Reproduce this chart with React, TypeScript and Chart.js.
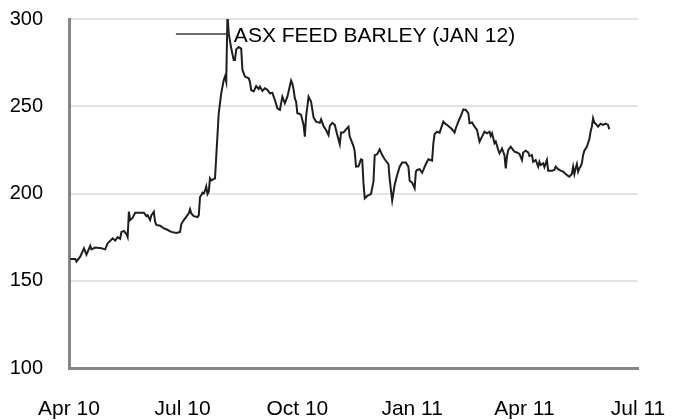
import React, { useEffect, useRef } from 'react';
import { Chart, registerables } from 'chart.js';

Chart.register(...registerables);

const seriesLabel = 'ASX FEED BARLEY (JAN 12)';

// x ticks: days since 1 Apr 2010
const tickDays = [0, 91, 183, 275, 365, 456];
const tickLabels = ['Apr 10', 'Jul 10', 'Oct 10', 'Jan 11', 'Apr 11', 'Jul 11'];
const yTicks = [100, 150, 200, 250, 300];

// days since 1 Apr 2010
const barleyDays = [
  1, 5, 6, 9, 12, 14, 17, 18, 21, 26,
  29, 31, 35, 37, 39, 41, 42, 44, 46, 47,
  48, 49, 51, 53, 60, 62, 63, 65, 66, 68,
  69, 70, 73, 76, 78, 82, 86, 89, 90, 92,
  96, 97, 98, 100, 103, 104, 105, 106, 107, 108,
  109, 110, 111, 112, 113, 114, 117, 120, 122, 124,
  125, 126, 127, 128, 130, 132, 133, 134, 136, 138,
  139, 141, 144, 145, 146, 148, 150, 152, 153, 155,
  157, 159, 161, 163, 165, 167, 169, 171, 173, 175,
  178, 179, 180, 181, 182, 183, 185, 186, 188, 189,
  190, 192, 194, 196, 198, 201, 202, 204, 206, 208,
  209, 211, 213, 215, 217, 218, 220, 222, 224, 225,
  228, 229, 230, 232, 234, 235, 236, 237, 239, 242,
  244, 245, 247, 249, 251, 253, 256, 257, 258, 259,
  261, 263, 265, 267, 270, 272, 273, 275, 277, 278,
  279, 281, 283, 284, 286, 288, 291, 292, 293, 295,
  297, 300, 301, 304, 307, 309, 310, 312, 314, 316,
  318, 320, 321, 323, 325, 327, 329, 331, 333, 335,
  337, 338, 339, 341, 342, 344, 345, 347, 349, 350,
  351, 352, 354, 356, 357, 359, 361, 363, 364, 366,
  368, 369, 371, 372, 374, 376, 377, 378, 380, 381,
  383, 384, 387, 389, 390, 392, 394, 396, 398, 400,
  401, 403, 404, 405, 406, 407, 408, 409, 410, 411,
  412, 413, 415, 417, 418, 419, 420, 421, 422, 424,
  426, 428, 430, 432, 433,
];

const barleyPrices = [
  162.5, 162.5, 161, 163.8, 168.6, 165, 170, 168, 169, 168.6,
  168, 171.5, 174.3, 173, 175, 174, 178, 178.5, 176.8, 175,
  189.6, 184.8, 186, 189, 189, 187, 187.5, 184.8, 187.5, 189.6,
  183.8, 182, 181.5, 180, 179.5, 178, 177.4, 178, 182.5, 184.8,
  188.6, 191, 188.6, 187, 186.5, 187.5, 198, 199, 200.5, 200,
  201.6, 204, 199.6, 201, 208.7, 207.5, 208.7, 246, 257.4, 265,
  267, 264, 303, 291.8, 283.2, 276.5, 276.5, 282.6, 284, 283,
  270.8, 267, 266, 264, 259.3, 258.5, 261.6, 259.9, 261.3, 258.8,
  260.3, 259.5, 257.4, 257.7, 253.6, 248.8, 247.9, 255.5, 251.7, 255.5,
  264.7, 263, 259.5, 254.5, 252.6, 246, 245.6, 245, 239.3, 232.6,
  244, 255.5, 252.6, 243.6, 241.2, 240.5, 242.5, 238.7, 236.4, 233.5,
  238.7, 240.5, 239.3, 233.5, 228.2, 234.9, 234.9, 236.8, 238.3, 232.6,
  227.2, 224, 215.4, 215.6, 219.6, 219.3, 205.8, 197.2, 198.6, 199.7,
  206.8, 222, 222.5, 225.3, 222, 219.6, 216.9, 208.2, 202, 196,
  205, 210.6, 215.4, 217.7, 217.7, 215.4, 207.3, 206.2, 203, 212.5,
  213.5, 213.9, 211.9, 213.5, 216.9, 219.6, 218.8, 228.8, 234.1, 235.4,
  234.9, 241.2, 240.3, 238.7, 236.8, 234.9, 237.4, 241.2, 244.4, 248.2,
  247.9, 246, 240.3, 240.7, 238.3, 236.4, 229.7, 232.6, 235.4, 234.5,
  235.4, 233, 234.5, 228.8, 229.8, 224.9, 223, 225.8, 222, 214.4,
  221.2, 224.9, 226.8, 224.9, 224, 223.5, 222.7, 219.2, 223.5, 224.5,
  223.5, 221.5, 222, 218.2, 219.2, 215.4, 218.2, 216.3, 217.3, 215.1,
  219.2, 213.1, 213.1, 213.5, 215.4, 213.9, 213.1, 212.5, 211.2, 210.1,
  209.6, 211.2, 215.4, 211.2, 214.4, 216.9, 212.5, 214.4, 215.4, 217.3,
  222, 224.5, 226.8, 231.1, 235.4, 238.3, 243.1, 240.6, 240, 238.3,
  240, 239.3, 240, 239.3, 236.8,
];

const FONT_FAMILY = '"Liberation Sans", Arial, sans-serif';

// Legend drawn inside the plot area, near the top, centred
const insideLegend = {
  id: 'insideLegend',
  afterDatasetsDraw(chart: any) {
    const { ctx, chartArea } = chart;
    const ds = chart.data.datasets[0];
    const text = ds.label as string;
    ctx.save();
    ctx.font = `21px ${FONT_FAMILY}`;
    const tw = ctx.measureText(text).width;
    const lineW = 52;
    const gap = 6;
    const total = lineW + gap + tw;
    const cx = (chartArea.left + chartArea.right) / 2 - 8;
    const x0 = cx - total / 2;
    const y = chartArea.top + 15;
    ctx.strokeStyle = '#3a3a3a';
    ctx.lineWidth = 1.5;
    ctx.beginPath();
    ctx.moveTo(x0, y);
    ctx.lineTo(x0 + lineW, y);
    ctx.stroke();
    ctx.fillStyle = '#000';
    ctx.textBaseline = 'middle';
    ctx.textAlign = 'left';
    ctx.fillText(text, x0 + lineW + gap, y + 2);
    ctx.restore();
  },
};

export default function App() {
  const ref = useRef<HTMLCanvasElement>(null);

  useEffect(() => {
    document.body.style.margin = '0';
    const yFont = { family: FONT_FAMILY, size: 20 };
    const xFont = { family: FONT_FAMILY, size: 21 };
    const chart = new Chart(ref.current as HTMLCanvasElement, {
      type: 'line',
      data: {
        datasets: [
          {
            label: seriesLabel,
            data: barleyDays.map((d, i) => ({ x: d, y: barleyPrices[i] })),
            borderColor: '#1e1e1e',
            backgroundColor: 'rgba(0,0,0,0)',
            borderWidth: 2,
            pointRadius: 0,
            tension: 0,
          },
        ],
      },
      plugins: [insideLegend],
      options: {
        responsive: false,
        animation: false,
        layout: { padding: { top: 19, right: 44, left: 0, bottom: 0 } },
        plugins: {
          legend: { display: false },
          tooltip: { enabled: false },
        },
        scales: {
          x: {
            type: 'linear',
            min: 0,
            max: 456,
            afterBuildTicks: (s: any) => {
              s.ticks = tickDays.map((v) => ({ value: v }));
            },
            ticks: {
              callback: (v: any) => {
                const i = tickDays.indexOf(Number(v));
                return i >= 0 ? tickLabels[i] : '';
              },
              autoSkip: false,
              maxRotation: 0,
              padding: 29,
              font: xFont,
              color: '#000',
            },
            grid: { display: false, drawTicks: false },
            border: { color: '#868686', width: 3 },
            afterFit: (s: any) => {
              s.height = 52;
              s.paddingLeft = 0;
              s.paddingRight = 0;
            },
          },
          y: {
            min: 100,
            max: 300,
            afterBuildTicks: (s: any) => {
              s.ticks = yTicks.map((v) => ({ value: v }));
            },
            ticks: { padding: 26, font: yFont, color: '#000' },
            grid: { color: '#e3e3e3', lineWidth: 2, drawTicks: false },
            border: { color: '#868686', width: 3 },
            afterFit: (s: any) => {
              s.width = 69;
              s.paddingTop = 0;
              s.paddingBottom = 0;
            },
          },
        },
      },
    });
    return () => chart.destroy();
  }, []);

  return (
    <div style={{ position: 'absolute', left: 0, top: 0, width: 682, height: 420 }}>
      <canvas ref={ref} width={682} height={420} style={{ display: 'block' }} />
    </div>
  );
}
